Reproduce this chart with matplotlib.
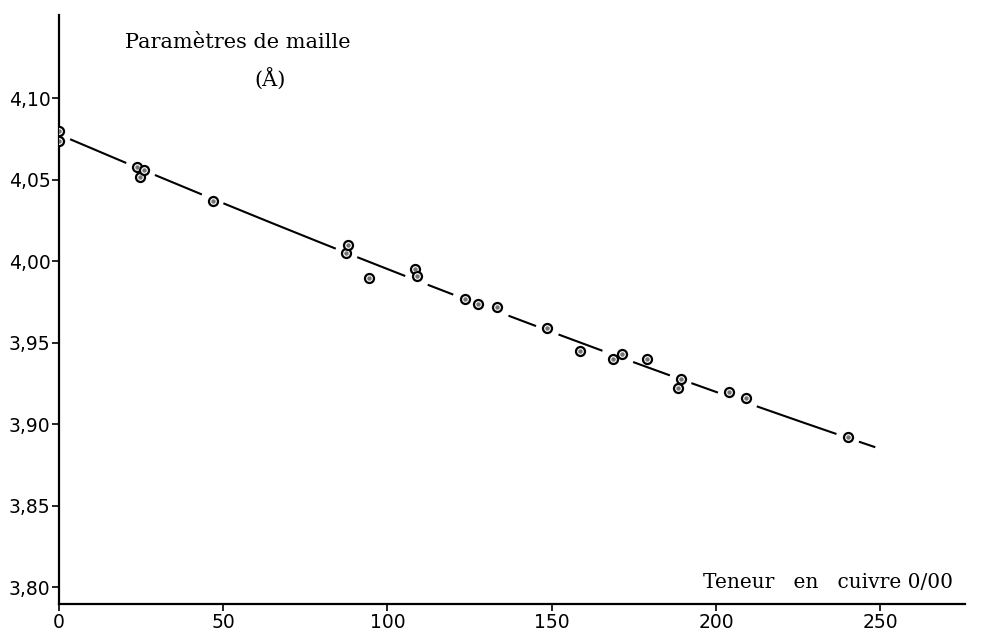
import numpy as np
import matplotlib.pyplot as plt

# lattice parameter (Angstrom) against copper content (per mille)
cuivre = [0, 0, 23.9, 24.7, 25.8, 46.8, 87.5, 88.1, 94.4, 108.3, 108.9,
          123.5, 127.5, 133.4, 148.6, 158.7, 168.7, 171.5, 179.0, 188.5,
          189.3, 204.0, 209.0, 240.1]
maille = [4.080, 4.074, 4.058, 4.052, 4.056, 4.037, 4.005, 4.010, 3.990,
          3.995, 3.991, 3.977, 3.974, 3.972, 3.959, 3.945, 3.940, 3.943,
          3.940, 3.922, 3.928, 3.920, 3.916, 3.892]

# points
courbe_x = [1.6, 20.9, 111.3, 121.3, 192.6, 235.8, 248.5]
courbe_y = [4.0763, 4.0600, 3.9868, 3.9788, 3.9241, 3.8951, 3.8860]

xticks = [0, 50, 100, 150, 200, 250]
yticks = [3.80, 3.85, 3.90, 3.95, 4.00, 4.05, 4.10]

fig = plt.figure(figsize=(9.81, 6.32), dpi=100)
ax = fig.add_axes([0.060, 0.044, 0.924, 0.932])

# smooth trend, broken where it runs through the circles
coef = np.polyfit(courbe_x, courbe_y, 2)
xs = np.linspace(0, 248.5, 800)
ys = np.polyval(coef, xs)
cx = np.array(cuivre)
cy = np.array(maille)
on_line = np.abs(cy - np.polyval(coef, cx)) < 0.004
for px in cx[on_line]:
    ys[np.abs(xs - px) < 3.2] = np.nan
ax.plot(xs, ys, color='black', lw=1.5, solid_capstyle='butt')

ax.plot(cuivre, maille, 'o', ms=6.5, mfc='white', mec='black', mew=1.6,
        zorder=3)
ax.plot(cuivre, maille, 'o', ms=2.2, color='0.45', zorder=4)

ax.set_xlim(0, 275.9)
ax.set_ylim(3.7896, 4.151)
ax.spines['top'].set_visible(False)
ax.spines['right'].set_visible(False)
for s in ['left', 'bottom']:
    ax.spines[s].set_linewidth(1.6)

ax.set_xticks(xticks)
ax.set_xticklabels([str(t) for t in xticks])
ax.set_yticks(yticks)
ax.set_yticklabels([('%.2f' % t).replace('.', ',') for t in yticks])
ax.tick_params(axis='both', direction='out', length=5, width=1.2,
               labelsize=13.5, pad=1)
for lab in ax.get_xticklabels() + ax.get_yticklabels():
    lab.set_fontfamily('DejaVu Sans')

ax.text(0.073, 0.954, 'Paramètres de maille', transform=ax.transAxes,
        fontsize=15, family='DejaVu Serif', ha='left', va='center')
ax.text(0.233, 0.893, '(Å)', transform=ax.transAxes,
        fontsize=15, family='DejaVu Serif', ha='center', va='center')
ax.text(0.986, 0.037, 'Teneur   en   cuivre 0/00', transform=ax.transAxes,
        fontsize=14.5, family='DejaVu Serif', ha='right', va='center')

fig.savefig('out.png', dpi=100)
